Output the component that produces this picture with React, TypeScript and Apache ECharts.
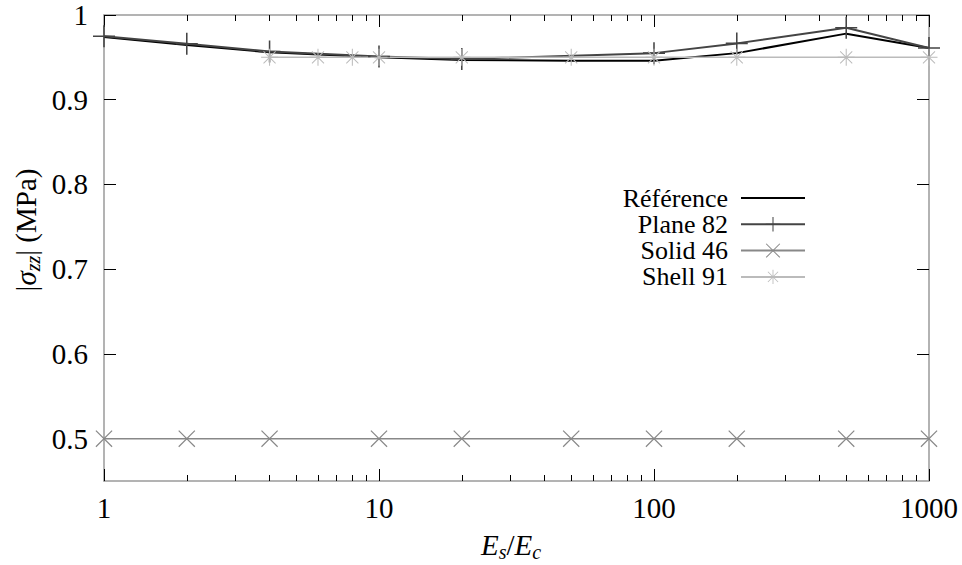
import React, { useEffect, useRef } from "react";
import * as echarts from "echarts";

const X_REF = [1, 2, 4, 10, 20, 50, 100, 200, 500, 1000];
const Y_REF = [0.974, 0.9645, 0.956, 0.95, 0.947, 0.946, 0.946, 0.955, 0.978, 0.961];
const X_PLANE = [1, 2, 4, 10, 20, 100, 200, 500, 1000];
const Y_PLANE = [0.975, 0.966, 0.957, 0.951, 0.948, 0.955, 0.9665, 0.985, 0.961];
const X_SOLID = [1, 2, 4, 10, 20, 50, 100, 200, 500, 1000];
const Y_SOLID = [0.5, 0.5, 0.5, 0.5, 0.5, 0.5, 0.5, 0.5, 0.5, 0.5];
const X_SHELL = [4, 6, 8, 10, 20, 50, 100, 200, 500, 1000];
const Y_SHELL = [0.95, 0.95, 0.95, 0.95, 0.95, 0.95, 0.95, 0.95, 0.95, 0.95];
const SERIES_NAMES = ["Référence", "Plane 82", "Solid 46", "Shell 91"];
const X_MAJOR = [1, 10, 100, 1000];
const X_MINOR = [2, 3, 4, 5, 6, 7, 8, 9, 20, 30, 40, 50, 60, 70, 80, 90, 200, 300, 400, 500, 600, 700, 800, 900];
const Y_TICKS = [0.5, 0.6, 0.7, 0.8, 0.9, 1];

const FONT = "'Liberation Serif', serif";
const PLUS = "path://M-0.07,-1 L0.07,-1 L0.07,1 L-0.07,1 Z M-1,-0.07 L1,-0.07 L1,0.07 L-1,0.07 Z";
const CROSS = "path://M-1,-0.9 L-0.9,-1 L1,0.9 L0.9,1 Z M0.9,-1 L1,-0.9 L-0.9,1 L-1,0.9 Z";
const STAR =
  "path://M-0.06,-1 L0.06,-1 L0.06,1 L-0.06,1 Z M-1,-0.06 L1,-0.06 L1,0.06 L-1,0.06 Z M-0.75,-0.67 L-0.67,-0.75 L0.75,0.67 L0.67,0.75 Z M0.67,-0.75 L0.75,-0.67 L-0.67,0.75 L-0.75,0.67 Z";

const pairs = (xs: number[], ys: number[]) => xs.map((x, i) => [x, ys[i]]);

export default function App() {
  const ref = useRef<HTMLDivElement>(null);
  useEffect(() => {
    const chart = echarts.init(ref.current!, null, { renderer: "svg" });
    const axisLine = { show: true, lineStyle: { color: "#9a9a9a", width: 1.5 } };
    const tickStyle = { color: "#000", width: 1 };
    const xBase = { type: "log", logBase: 10, min: 1, max: 1000, gridIndex: 0, splitLine: { show: false } };
    const yBase = { type: "value", min: 0.45, max: 1, gridIndex: 0, splitLine: { show: false } };
    const option: any = {
      animation: false,
      backgroundColor: "#fff",
      textStyle: { fontFamily: FONT },
      grid: { left: 104, right: 33, top: 15, bottom: 84 },
      xAxis: [
        {
          ...xBase,
          position: "bottom",
          axisLine,
          axisTick: { show: true, inside: true, length: 12, lineStyle: tickStyle, customValues: X_MAJOR },
          axisLabel: {
            show: true,
            margin: 12,
            fontFamily: FONT,
            fontSize: 29,
            color: "#000",
            customValues: X_MAJOR,
            formatter: (v: number) => String(Math.round(v)),
          },
        },
        {
          ...xBase,
          position: "bottom",
          axisLine: { show: false },
          axisTick: { show: true, inside: true, length: 6, lineStyle: tickStyle, customValues: X_MINOR },
          axisLabel: { show: false },
        },
        {
          ...xBase,
          position: "top",
          axisLine,
          axisTick: { show: true, inside: true, length: 12, lineStyle: tickStyle, customValues: X_MAJOR },
          axisLabel: { show: false },
        },
        {
          ...xBase,
          position: "top",
          axisLine: { show: false },
          axisTick: { show: true, inside: true, length: 6, lineStyle: tickStyle, customValues: X_MINOR },
          axisLabel: { show: false },
        },
      ],
      yAxis: [
        {
          ...yBase,
          position: "left",
          axisLine,
          axisTick: { show: true, inside: true, length: 12, lineStyle: tickStyle, customValues: Y_TICKS },
          axisLabel: {
            show: true,
            margin: 16,
            fontFamily: FONT,
            fontSize: 29,
            lineHeight: 26,
            color: "#000",
            customValues: Y_TICKS,
            formatter: (v: number) => String(Math.round(v * 10) / 10),
          },
        },
        {
          ...yBase,
          position: "right",
          axisLine,
          axisTick: { show: true, inside: true, length: 12, lineStyle: tickStyle, customValues: Y_TICKS },
          axisLabel: { show: false },
        },
      ],
      legend: {
        orient: "vertical",
        align: "right",
        right: 156,
        top: 185,
        padding: 0,
        itemWidth: 64,
        itemHeight: 18,
        itemGap: 0.3,
        textStyle: { fontFamily: FONT, fontSize: 26, lineHeight: 26, color: "#000", padding: [0, 8, 0, 0] },
        data: [
          { name: SERIES_NAMES[0], itemStyle: { opacity: 0 } },
          SERIES_NAMES[1],
          SERIES_NAMES[2],
          SERIES_NAMES[3],
        ],
      },
      graphic: [
        {
          type: "text",
          x: 26,
          y: 230,
          rotation: Math.PI / 2,
          style: {
            text: "|{s|σ}{sub|zz}| (MPa)",
            fontFamily: FONT,
            fontSize: 29,
            fill: "#000",
            align: "center",
            verticalAlign: "middle",
            rich: {
              s: { fontFamily: FONT, fontSize: 29, fontStyle: "italic", fill: "#000" },
              sub: { fontFamily: FONT, fontSize: 20, fontStyle: "italic", fill: "#000", padding: [14, 0, 0, 0] },
            },
          },
        },
        {
          type: "text",
          x: 511,
          y: 545,
          style: {
            text: "{i|E}{sub|s}/{i|E}{sub|c}",
            fontFamily: FONT,
            fontSize: 29,
            fill: "#000",
            align: "center",
            verticalAlign: "middle",
            rich: {
              i: { fontFamily: FONT, fontSize: 29, fontStyle: "italic", fill: "#000" },
              sub: { fontFamily: FONT, fontSize: 20, fontStyle: "italic", fill: "#000", padding: [14, 0, 0, 0] },
            },
          },
        },
      ],
      series: [
        {
          name: SERIES_NAMES[0],
          type: "line",
          data: pairs(X_REF, Y_REF),
          symbol: "none",
          color: "#000",
          lineStyle: { color: "#000", width: 2 },
        },
        {
          name: SERIES_NAMES[1],
          type: "line",
          data: pairs(X_PLANE, Y_PLANE),
          symbol: PLUS,
          symbolSize: 22,
          color: "#444",
          itemStyle: { color: "#444" },
          lineStyle: { color: "#444", width: 2 },
        },
        {
          name: SERIES_NAMES[2],
          type: "line",
          data: pairs(X_SOLID, Y_SOLID),
          symbol: CROSS,
          symbolSize: 17,
          color: "#888",
          itemStyle: { color: "#888" },
          lineStyle: { color: "#888", width: 1.5 },
        },
        {
          name: SERIES_NAMES[3],
          type: "line",
          data: pairs(X_SHELL, Y_SHELL),
          symbol: STAR,
          symbolSize: 17,
          color: "#bbb",
          itemStyle: { color: "#bbb" },
          lineStyle: { color: "#bbb", width: 1.5 },
        },
      ],
    };
    chart.setOption(option);
    return () => chart.dispose();
  }, []);
  return <div ref={ref} style={{ width: 962, height: 565, position: "absolute", left: 0, top: 0 }} />;
}
